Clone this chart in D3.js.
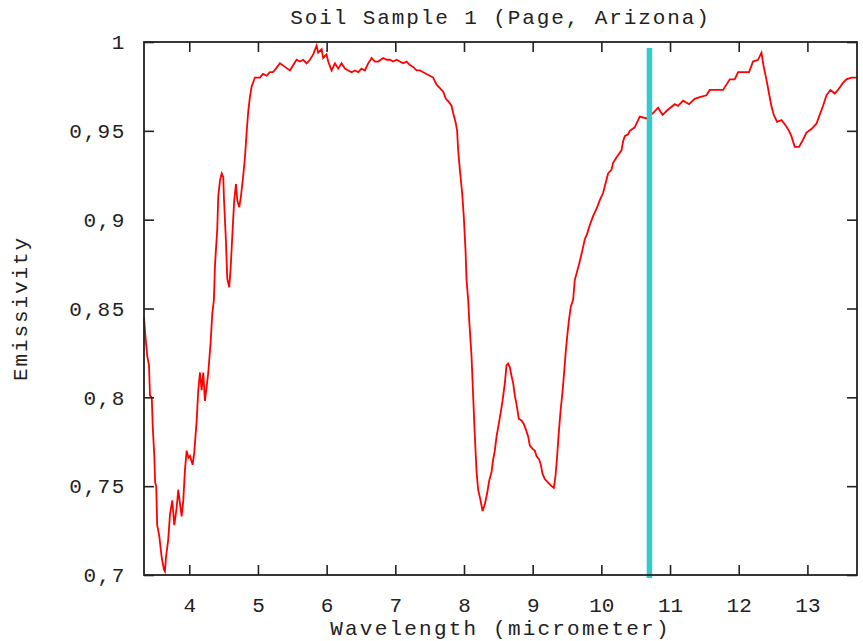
<!DOCTYPE html>
<html>
<head>
<meta charset="utf-8">
<script src="https://cdn.jsdelivr.net/npm/d3@7"></script>
<style>
  body { margin: 0; background: #fff; }
  text { font-family: "Liberation Mono", "DejaVu Sans Mono", monospace; fill: #222; }
</style>
</head>
<body>
<script>
// wavelength (micrometer)
var wavelength = [
  3.341, 3.356, 3.389, 3.414, 3.428, 3.454, 3.469, 3.491, 3.503, 3.519, 3.533, 3.563, 3.598, 3.632, 3.646,
  3.661, 3.694, 3.719, 3.753, 3.782, 3.817, 3.840, 3.865, 3.889, 3.913, 3.937, 3.962, 3.988, 4.010, 4.049,
  4.073, 4.108, 4.131, 4.156, 4.180, 4.204, 4.228, 4.253, 4.277, 4.311, 4.335, 4.359, 4.374, 4.408, 4.422,
  4.447, 4.472, 4.495, 4.505, 4.534, 4.553, 4.582, 4.603, 4.632, 4.655, 4.680, 4.699, 4.728, 4.752, 4.786,
  4.811, 4.835, 4.859, 4.883, 4.908, 4.956, 5.029, 5.073, 5.126, 5.174, 5.218, 5.262, 5.320, 5.393, 5.466,
  5.514, 5.563, 5.611, 5.659, 5.709, 5.757, 5.805, 5.854, 5.877, 5.927, 5.950, 5.999, 6.023, 6.072, 6.121,
  6.169, 6.218, 6.266, 6.314, 6.364, 6.412, 6.460, 6.509, 6.557, 6.605, 6.655, 6.703, 6.751, 6.823, 6.873,
  6.921, 6.969, 7.018, 7.066, 7.115, 7.164, 7.212, 7.260, 7.310, 7.358, 7.406, 7.455, 7.503, 7.551, 7.601,
  7.649, 7.697, 7.736, 7.784, 7.819, 7.842, 7.877, 7.900, 7.915, 7.940, 7.973, 7.998, 8.023, 8.037, 8.061,
  8.075, 8.110, 8.133, 8.158, 8.183, 8.206, 8.241, 8.270, 8.304, 8.337, 8.366, 8.401, 8.424, 8.449, 8.474,
  8.497, 8.532, 8.561, 8.595, 8.619, 8.643, 8.667, 8.692, 8.716, 8.740, 8.765, 8.798, 8.837, 8.870, 8.900,
  8.934, 8.958, 8.998, 9.031, 9.056, 9.094, 9.119, 9.143, 9.177, 9.225, 9.274, 9.308, 9.333, 9.356, 9.376,
  9.405, 9.434, 9.458, 9.482, 9.507, 9.530, 9.555, 9.589, 9.613, 9.676, 9.725, 9.759, 9.792, 9.832, 9.880,
  9.929, 9.977, 10.025, 10.098, 10.147, 10.171, 10.220, 10.293, 10.316, 10.341, 10.389, 10.414, 10.486, 10.511, 10.559,
  10.657, 10.753, 10.826, 10.890, 10.972, 11.069, 11.117, 11.190, 11.277, 11.360, 11.433, 11.530, 11.578, 11.676, 11.772,
  11.821, 11.869, 11.942, 11.990, 12.063, 12.150, 12.208, 12.281, 12.331, 12.364, 12.403, 12.441, 12.476, 12.510, 12.558,
  12.622, 12.684, 12.732, 12.767, 12.815, 12.878, 12.936, 12.986, 13.058, 13.131, 13.179, 13.227, 13.277, 13.335, 13.398,
  13.445, 13.518, 13.568, 13.641, 13.722
];

var emissivity = [
  0.845, 0.837, 0.823, 0.818, 0.801, 0.800, 0.783, 0.767, 0.752, 0.750, 0.728, 0.722, 0.710, 0.703, 0.702,
  0.710, 0.720, 0.734, 0.742, 0.728, 0.738, 0.748, 0.740, 0.733, 0.742, 0.759, 0.770, 0.766, 0.767, 0.762,
  0.769, 0.787, 0.804, 0.814, 0.804, 0.814, 0.798, 0.806, 0.814, 0.831, 0.847, 0.855, 0.874, 0.895, 0.913,
  0.922, 0.926, 0.924, 0.912, 0.888, 0.867, 0.862, 0.873, 0.895, 0.911, 0.920, 0.911, 0.907, 0.913, 0.925,
  0.935, 0.949, 0.961, 0.969, 0.975, 0.980, 0.980, 0.982, 0.981, 0.983, 0.983, 0.985, 0.988, 0.986, 0.984,
  0.987, 0.990, 0.989, 0.990, 0.988, 0.990, 0.993, 0.998, 0.994, 0.996, 0.991, 0.993, 0.989, 0.984, 0.988,
  0.985, 0.988, 0.985, 0.984, 0.983, 0.984, 0.983, 0.985, 0.984, 0.988, 0.991, 0.989, 0.989, 0.991, 0.990,
  0.990, 0.989, 0.990, 0.989, 0.988, 0.989, 0.987, 0.986, 0.984, 0.984, 0.983, 0.982, 0.981, 0.980, 0.976,
  0.974, 0.972, 0.968, 0.966, 0.964, 0.960, 0.955, 0.950, 0.939, 0.928, 0.915, 0.901, 0.882, 0.866, 0.855,
  0.844, 0.823, 0.801, 0.778, 0.758, 0.748, 0.742, 0.736, 0.740, 0.746, 0.753, 0.758, 0.765, 0.770, 0.778,
  0.783, 0.791, 0.798, 0.808, 0.818, 0.819, 0.817, 0.812, 0.808, 0.801, 0.796, 0.788, 0.787, 0.785, 0.782,
  0.778, 0.773, 0.771, 0.770, 0.767, 0.765, 0.762, 0.757, 0.754, 0.752, 0.750, 0.749, 0.756, 0.767, 0.778,
  0.792, 0.803, 0.814, 0.826, 0.836, 0.844, 0.851, 0.855, 0.866, 0.875, 0.883, 0.889, 0.892, 0.897, 0.902,
  0.906, 0.911, 0.915, 0.926, 0.928, 0.932, 0.935, 0.939, 0.944, 0.947, 0.948, 0.950, 0.952, 0.954, 0.958,
  0.957, 0.960, 0.963, 0.959, 0.962, 0.965, 0.964, 0.967, 0.965, 0.968, 0.969, 0.970, 0.973, 0.973, 0.973,
  0.976, 0.979, 0.979, 0.983, 0.983, 0.983, 0.989, 0.990, 0.994, 0.986, 0.979, 0.971, 0.964, 0.959, 0.955,
  0.956, 0.953, 0.950, 0.947, 0.941, 0.941, 0.945, 0.949, 0.951, 0.954, 0.959, 0.964, 0.970, 0.973, 0.971,
  0.973, 0.977, 0.979, 0.980, 0.980
];

// marker line (cyan)
var markerWavelength = 10.7;
var markerRange = [0.6983, 0.9966];

var xTicks = [4, 5, 6, 7, 8, 9, 10, 11, 12, 13];
var yTicks = [0.7, 0.75, 0.8, 0.85, 0.9, 0.95, 1];

var width = 863,
    height = 641;
var margin = {top: 42, right: 6, bottom: 66, left: 144};
var innerW = width - margin.left - margin.right,
    innerH = height - margin.top - margin.bottom;

var commaFmt = d3.formatLocale({decimal: ",", thousands: ".", grouping: [3], currency: ["", ""]}).format(".2~f");

var x = d3.scaleLinear().domain([3.341, 13.722]).range([0, innerW]);
var y = d3.scaleLinear().domain([0.7, 1]).range([innerH, 0]);

var svg = d3.select("body").append("svg")
    .attr("width", width)
    .attr("height", height);

var g = svg.append("g")
    .attr("transform", "translate(" + margin.left + "," + margin.top + ")");

var data = wavelength.map(function(w, i) { return {w: w, e: emissivity[i]}; });

// curve
var line = d3.line()
    .x(function(d) { return x(d.w); })
    .y(function(d) { return y(d.e); });

g.append("path")
    .datum(data)
    .attr("fill", "none")
    .attr("stroke", "#ff0000")
    .attr("stroke-width", 1.8)
    .attr("stroke-linejoin", "miter")
    .attr("d", line);

// cyan marker
g.append("line")
    .attr("x1", x(markerWavelength))
    .attr("x2", x(markerWavelength))
    .attr("y1", y(markerRange[0]))
    .attr("y2", y(markerRange[1]))
    .attr("stroke", "#33cccc")
    .attr("stroke-width", 5.5);

// axes - gnuplot style inward ticks, mirrored
var tickLen = 10;

var xAxis = g.append("g")
    .attr("transform", "translate(0," + innerH + ")")
    .call(d3.axisBottom(x).tickValues(xTicks).tickSize(-tickLen).tickFormat(d3.format("d")));
var xTop = g.append("g")
    .call(d3.axisTop(x).tickValues(xTicks).tickSize(-tickLen).tickFormat(""));
var yAxis = g.append("g")
    .call(d3.axisLeft(y).tickValues(yTicks).tickSize(-tickLen).tickFormat(commaFmt));
var yRight = g.append("g")
    .attr("transform", "translate(" + innerW + ",0)")
    .call(d3.axisRight(y).tickValues(yTicks).tickSize(-tickLen).tickFormat(""));

[xAxis, xTop, yAxis, yRight].forEach(function(a) {
    a.select(".domain").remove();
    a.selectAll(".tick line").attr("stroke", "#222").attr("stroke-width", 1.6);
});

xAxis.selectAll(".tick text")
    .attr("y", 37)
    .attr("dy", 0)
    .style("font-size", "21px")
    .style("font-family", "'Liberation Mono', monospace")
    .attr("fill", "#222");

yAxis.selectAll(".tick text")
    .attr("x", -18)
    .attr("dy", "0.32em")
    .style("font-size", "21px")
    .style("font-family", "'Liberation Mono', monospace")
    .style("letter-spacing", "1.6px")
    .attr("fill", "#222");

// frame
g.append("rect")
    .attr("width", innerW)
    .attr("height", innerH)
    .attr("fill", "none")
    .attr("stroke", "#222")
    .attr("stroke-width", 1.8);

// title and labels
svg.append("text")
    .attr("x", margin.left + innerW / 2)
    .attr("y", 24)
    .attr("text-anchor", "middle")
    .style("font-size", "21px")
    .style("letter-spacing", "1.9px")
    .text("Soil Sample 1 (Page, Arizona)");

svg.append("text")
    .attr("x", margin.left + innerW / 2)
    .attr("y", 635)
    .attr("text-anchor", "middle")
    .style("font-size", "21px")
    .style("letter-spacing", "2.2px")
    .text("Wavelength (micrometer)");

svg.append("text")
    .attr("transform", "translate(27," + (margin.top + innerH / 2) + ") rotate(-90)")
    .attr("text-anchor", "middle")
    .style("font-size", "21px")
    .style("letter-spacing", "1.9px")
    .text("Emissivity");
</script>
</body>
</html>
